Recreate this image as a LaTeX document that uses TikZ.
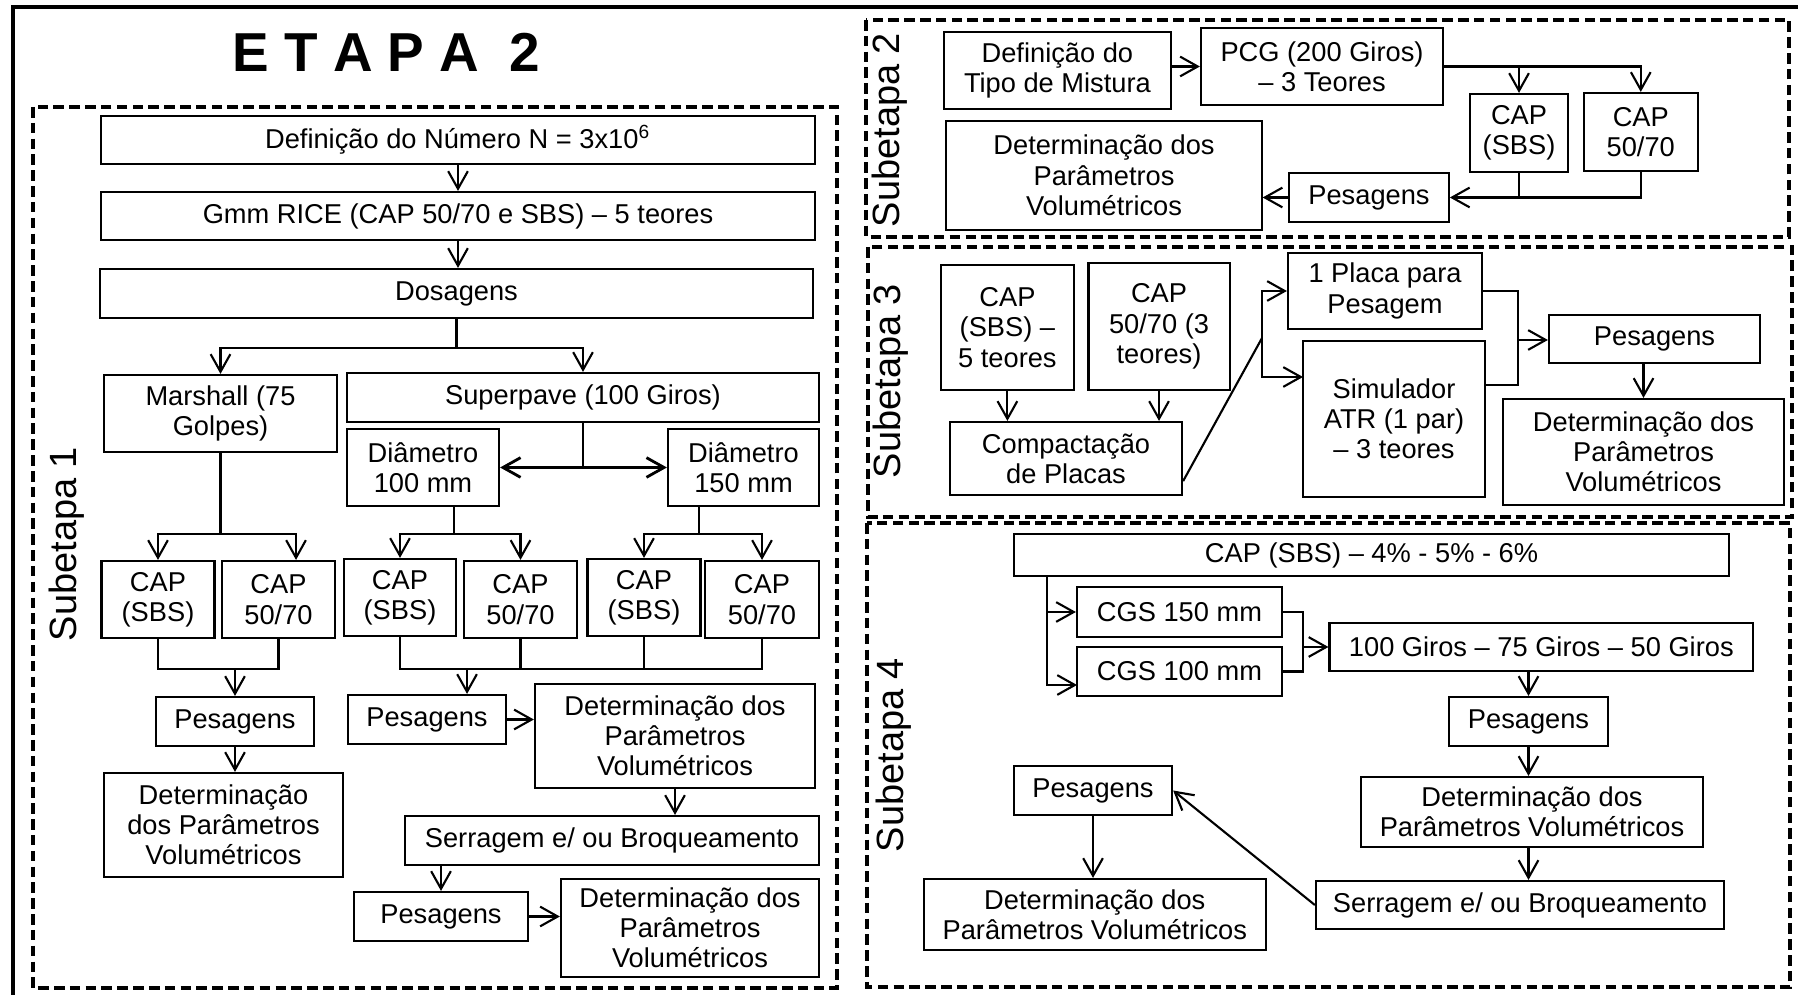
\documentclass[tikz,border=0pt]{standalone}
\usepackage{fontspec}
\setmainfont{Liberation Sans}
\usetikzlibrary{arrows.meta}

\begin{document}
\begin{tikzpicture}[
    x=0.01cm, y=-0.01cm, line width=0.6pt,
    font=\fontsize{7.75pt}{8.6pt}\selectfont,
    box/.style={draw, align=center, inner sep=0pt},
    arrow/.style={-{Straight Barb[length=5pt,width=5.6pt]}},
    dblarrow/.style={{Straight Barb[length=5pt,width=5.6pt]}-{Straight Barb[length=5pt,width=5.6pt]}, line width=0.8pt},
    frame/.style={line width=1.1pt, dash pattern=on 3pt off 1.5pt},
    sublabel/.style={rotate=90, font=\fontsize{10.8pt}{12pt}\selectfont}
]
\useasboundingbox (0,0) rectangle (1798,995);

% frames
\draw[line width=1.3pt] (1798,7) -- (13,7) -- (13,995);
\draw[frame] (33,107) rectangle (837,988);
\draw[frame] (866,20) rectangle (1789,237);
\draw[frame] (868,247) rectangle (1792,517);
\draw[frame] (867,523) rectangle (1790,987);

\node[font=\bfseries\fontsize{15.6pt}{18pt}\selectfont] (etapa) at (386.5,52) {E T A P A\ \ 2};
\node[sublabel] (sub1) at (67,544) {Subetapa 1};
\node[sublabel] (sub2) at (890,130) {Subetapa 2};
\node[sublabel] (sub3) at (891,381) {Subetapa 3};
\node[sublabel] (sub4) at (894,755) {Subetapa 4};

% Subetapa 1
\node[box, minimum width=7.13cm, minimum height=4.8mm] (numN) at (458,140) {Definição do Número N = 3x10\textsuperscript{6}};
\node[box, minimum width=7.13cm, minimum height=4.8mm] (gmm) at (458,216) {Gmm RICE (CAP 50/70 e SBS) – 5 teores};
\node[box, minimum width=7.13cm, minimum height=4.9mm] (dosag) at (456.5,293.5) {Dosagens};
\node[box, minimum width=2.33cm, minimum height=7.7mm] (marsh) at (220.5,413.5) {Marshall (75\\Golpes)};
\node[box, minimum width=4.72cm, minimum height=4.9mm] (superp) at (583,397.5) {Superpave (100 Giros)};
\node[box, minimum width=1.52cm, minimum height=7.7mm] (diamA) at (423,467.5) {Diâmetro\\100 mm};
\node[box, minimum width=1.51cm, minimum height=7.7mm] (diamB) at (743.5,467.5) {Diâmetro\\150 mm};
\node[box, minimum width=1.13cm, minimum height=7.7mm] (mSBS) at (158,599.5) {CAP\\(SBS)};
\node[box, minimum width=1.13cm, minimum height=7.7mm] (m5070) at (278.5,599.5) {CAP\\50/70};
\node[box, minimum width=1.12cm, minimum height=7.7mm] (aSBS) at (400,597.5) {CAP\\(SBS)};
\node[box, minimum width=1.13cm, minimum height=7.7mm] (a5070) at (520.5,599.5) {CAP\\50/70};
\node[box, minimum width=1.13cm, minimum height=7.7mm] (bSBS) at (644,597.5) {CAP\\(SBS)};
\node[box, minimum width=1.14cm, minimum height=7.7mm] (b5070) at (762,599.5) {CAP\\50/70};
\node[box, minimum width=1.58cm, minimum height=4.9mm] (mPes) at (235,721.5) {Pesagens};
\node[box, minimum width=2.39cm, minimum height=10.4mm] (mDet) at (223.5,825) {Determinação\\dos Parâmetros\\Volumétricos};
\node[box, minimum width=1.58cm, minimum height=4.9mm] (sPes) at (427,719.5) {Pesagens};
\node[box, minimum width=2.8cm, minimum height=10.4mm] (sDet) at (675,736) {Determinação dos\\Parâmetros\\Volumétricos};
\node[box, minimum width=4.14cm, minimum height=4.9mm] (sSerr) at (612,840.5) {Serragem e/ ou Broqueamento};
\node[box, minimum width=1.74cm, minimum height=4.9mm] (tPes) at (441,916.5) {Pesagens};
\node[box, minimum width=2.58cm, minimum height=9.8mm] (tDet) at (690,928) {Determinação dos\\Parâmetros\\Volumétricos};

\draw[arrow] (numN) -- (gmm);
\draw[arrow] (gmm.south) -- (gmm.south |- dosag.north);
\draw[arrow] (dosag.south) -- ++(0,29) coordinate (dosJ) -| (marsh.north);
\draw[arrow] (dosJ) -| (superp.north);
\draw (superp.south) -- (superp.south |- diamA.east);
\draw[dblarrow] (diamA.east) -- (diamB.west);
\draw[arrow] ([xshift=0.31cm]diamA.south) -- ++(0,27) coordinate (diamAJ) -| (aSBS.north);
\draw[arrow] (diamAJ) -| (a5070.north);
\draw[arrow] ([xshift=-0.445cm]diamB.south) -- ++(0,27) coordinate (diamBJ) -| (bSBS.north);
\draw[arrow] (diamBJ) -| (b5070.north);
\draw[arrow] (marsh.south) -- ++(0,81) coordinate (marshJ) -| (mSBS.north);
\draw[arrow] (marshJ) -| ([xshift=0.175cm]m5070.north);
\draw (mSBS.south) -- ++(0,30) coordinate (mJoin) -| (m5070.south);
\draw[arrow] (mJoin -| mPes.north) -- (mPes.north);
\draw (aSBS.south) -- ++(0,32) coordinate (sJoin) -| (b5070.south);
\draw (a5070.south) -- (a5070.south |- sJoin);
\draw (bSBS.south) -- (bSBS.south |- sJoin);
\coordinate (sPesIn) at ([xshift=0.4cm]sPes.north);
\draw[arrow] (sPesIn |- sJoin) -- (sPesIn);
\draw[arrow] (mPes.south) -- (mPes.south |- mDet.north);
\draw[arrow] (sPes.east) -- (sPes.east -| sDet.west);
\draw[arrow] (sDet.south) -- (sDet.south |- sSerr.north);
\draw[arrow] (tPes.north |- sSerr.south) -- (tPes.north);
\draw[arrow] (tPes.east) -- (tPes.east -| tDet.west);

% Subetapa 2
\node[box, minimum width=2.27cm, minimum height=7.7mm] (tipo) at (1057.4,70.5) {Definição do\\Tipo de Mistura};
\node[box, minimum width=2.42cm, minimum height=7.7mm] (pcg) at (1322,66.5) {PCG (200 Giros)\\– 3 Teores};
\node[box, minimum width=0.98cm, minimum height=7.8mm] (pSBS) at (1519,133) {CAP\\(SBS)};
\node[box, minimum width=1.135cm, minimum height=7.8mm] (p5070) at (1640.75,132) {CAP\\50/70};
\node[box, minimum width=1.595cm, minimum height=4.9mm] (pPes) at (1369,197.5) {Pesagens};
\node[box, minimum width=3.15cm, minimum height=10.9mm] (pDet) at (1104,175.5) {Determinação dos\\Parâmetros\\Volumétricos};

\draw[arrow] (pcg.west -| tipo.east) -- (pcg.west);
\draw[arrow] (pcg.east) -| (p5070.north);
\draw[arrow] (pcg.east -| pSBS.north) -- (pSBS.north);
\draw[arrow] (p5070.south) |- (pPes.east);
\draw (pSBS.south) -- (pSBS.south |- pPes.east);
\draw[arrow] (pPes.west) -- (pPes.west -| pDet.east);

% Subetapa 3
\node[box, minimum width=1.33cm, minimum height=12.5mm] (qSBS) at (1007.4,327.5) {CAP\\(SBS) –\\5 teores};
\node[box, minimum width=1.41cm, minimum height=12.7mm] (q5070) at (1159,326.5) {CAP\\50/70 (3\\teores)};
\node[box, minimum width=2.32cm, minimum height=7.3mm] (compac) at (1066,458.5) {Compactação\\de Placas};
\node[box, minimum width=1.94cm, minimum height=7.6mm] (placa) at (1385,291) {1 Placa para\\Pesagem};
\node[box, minimum width=1.82cm, minimum height=15.6mm] (simul) at (1394,419) {Simulador\\ATR (1 par)\\– 3 teores};
\node[box, minimum width=2.11cm, minimum height=4.8mm] (qPes) at (1654.5,339) {Pesagens};
\node[box, minimum width=2.81cm, minimum height=10.6mm] (qDet) at (1643.5,452) {Determinação dos\\Parâmetros\\Volumétricos};

\draw[arrow] (qSBS.south) -- (qSBS.south |- compac.north);
\draw[arrow] (q5070.south) -- (q5070.south |- compac.north);
\coordinate (fork) at (1262,338);
\coordinate (simulIn) at (1303,377);
\draw (compac.south east) ++(0,-15) -- (fork);
\draw[arrow] (fork) |- (placa.west);
\draw[arrow] (fork) |- (simulIn);
\coordinate (join3) at (1518,340);
\coordinate (simulOut) at (1485,385);
\draw (placa.east) -| (join3);
\draw (simulOut) -| (join3);
\draw[arrow] (join3) -- (join3 -| qPes.west);
\draw[arrow] (qDet.north |- qPes.south) -- (qDet.north);

% Subetapa 4
\node[box, minimum width=7.15cm, minimum height=4.2mm] (cap4) at (1371.5,555) {CAP (SBS) – 4\% - 5\% - 6\%};
\node[box, minimum width=2.05cm, minimum height=5mm] (cgsB) at (1179.5,612) {CGS 150 mm};
\node[box, minimum width=2.05cm, minimum height=4.9mm] (cgsA) at (1179.5,671.5) {CGS 100 mm};
\node[box, minimum width=4.234cm, minimum height=4.8mm] (giros) at (1541.3,647) {100 Giros – 75 Giros – 50 Giros};
\node[box, minimum width=1.59cm, minimum height=4.9mm] (rPes) at (1528.5,721.5) {Pesagens};
\node[box, minimum width=3.425cm, minimum height=7mm] (rDet) at (1532,812) {Determinação dos\\Parâmetros Volumétricos};
\node[box, minimum width=4.08cm, minimum height=4.8mm] (rSerr) at (1520,905) {Serragem e/ ou Broqueamento};
\node[box, minimum width=1.58cm, minimum height=4.9mm] (rPes2) at (1093,790.5) {Pesagens};
\node[box, minimum width=3.416cm, minimum height=7.1mm] (rDet2) at (1094.8,914.5) {Determinação dos\\Parâmetros Volumétricos};

\coordinate (cgsAIn) at (1077,685);
\draw[arrow] ([xshift=0.34cm]cap4.south west) |- (cgsB.west);
\draw[arrow] ([xshift=0.34cm]cap4.south west) |- (cgsAIn);
\coordinate (join4) at (1303,647);
\draw (cgsB.east) -| (join4);
\draw (cgsA.east) -| (join4);
\draw[arrow] (join4) -- (giros.west);
\draw[arrow] (rPes.north |- giros.south) -- (rPes.north);
\draw[arrow] (rPes.south) -- (rPes.south |- rDet.north);
\draw[arrow] (rPes.south |- rDet.south) -- (rPes.south |- rSerr.north);
\draw[arrow] (rSerr.west) -- (rPes2.east);
\draw[arrow] (rPes2.south) -- (rPes2.south |- rDet2.north);
\end{tikzpicture}
\end{document}
